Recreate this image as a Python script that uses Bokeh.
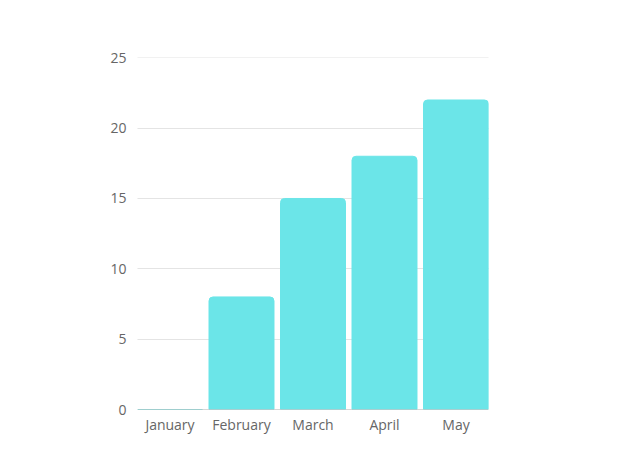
from bokeh.plotting import figure
from bokeh.models import ColumnDataSource, FixedTicker, Range1d, Span
from bokeh.embed import file_html
from bokeh.resources import INLINE

months = ["January", "February", "March", "April", "May"]
values = [0, 8, 15, 18, 22]
y_ticks = [0, 5, 10, 15, 20, 25]

xs = list(range(len(months)))
src = ColumnDataSource(dict(x=xs, value=values))
bar_w = 0.909

p = figure(x_range=Range1d(-bar_w / 2, len(months) - 1 + bar_w / 2), y_range=Range1d(0, 25.02),
           width=608, height=452, output_backend="svg", toolbar_location=None,
           min_border_left=137, min_border_right=120, min_border_top=57, min_border_bottom=43)
p.vbar(x="x", top="value", width=bar_w, source=src, color="#6be5e8",
       border_radius=(4, 4, 0, 0))

p.outline_line_color = None
p.xgrid.grid_line_color = None
p.ygrid.grid_line_color = "#c8c8c8"
p.ygrid.grid_line_dash = "1 1"
p.ygrid.grid_line_width = 1
p.add_layout(Span(location=0, dimension="width", line_color="#b0b0b0", line_width=1))
p.yaxis.ticker = FixedTicker(ticks=y_ticks)
p.xaxis.ticker = FixedTicker(ticks=xs)
p.xaxis.major_label_overrides = {i: m for i, m in zip(xs, months)}
for ax in (p.xaxis, p.yaxis):
    ax.axis_line_color = None
    ax.major_tick_line_color = None
    ax.minor_tick_line_color = None
    ax.major_label_text_font = "Open Sans"
    ax.major_label_text_font_size = "14px"
    ax.major_label_text_color = "#666666"
p.xaxis.major_label_standoff = -1
p.yaxis.major_label_standoff = 5

open("out.html", "w").write(file_html(p, INLINE))
